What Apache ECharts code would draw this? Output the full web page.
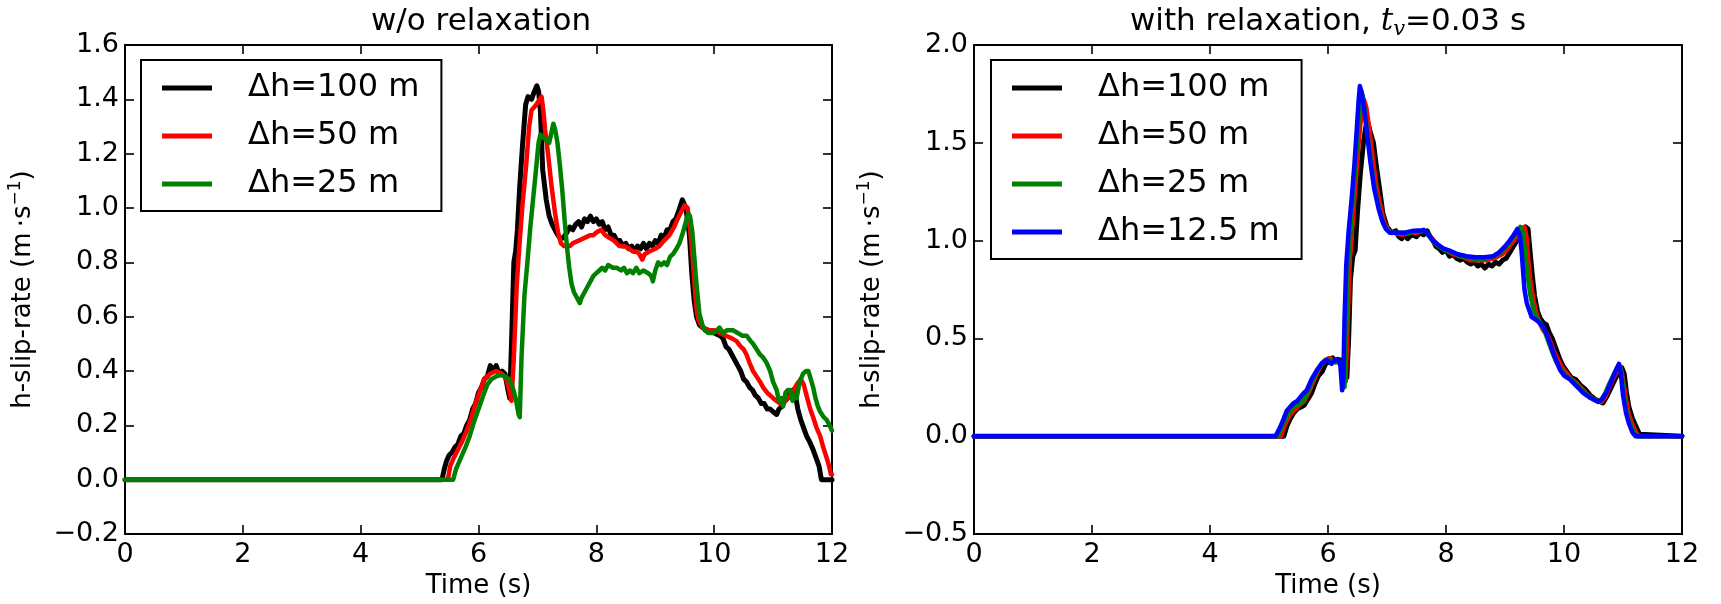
<!DOCTYPE html>
<html><head><meta charset="utf-8">
<script src="https://cdn.jsdelivr.net/npm/echarts@6/dist/echarts.min.js"></script>
<style>html,body{margin:0;padding:0;background:#fff}#c{width:1721px;height:604px}</style>
</head><body><div id="c"></div>
<script>
// ---------- data ----------
const leftTitle = 'w/o relaxation';
const xName = 'Time (s)';
const leftNames = ['Δh=100 m', 'Δh=50 m', 'Δh=25 m'];
const rightNames = ['Δh=100 m', 'Δh=50 m', 'Δh=25 m', 'Δh=12.5 m'];
const colors = ['#000000', '#ff0000', '#008000', '#0000ff'];

// left panel: w/o relaxation  [time (s), slip-rate (m/s)]
const left100 = [[0,0],[5.38,0],[5.42,0.04],[5.46,0.07],[5.5,0.09],[5.55,0.10],[5.6,0.12],[5.65,0.13],[5.7,0.16],[5.75,0.17],[5.8,0.20],[5.85,0.22],[5.9,0.26],[5.95,0.28],[6.0,0.32],[6.05,0.34],[6.1,0.37],[6.15,0.38],[6.2,0.42],[6.25,0.40],[6.3,0.42],[6.35,0.39],[6.4,0.40],[6.45,0.39],[6.5,0.33],[6.53,0.30],[6.56,0.50],[6.6,0.80],[6.63,0.84],[6.66,0.92],[6.7,1.08],[6.75,1.24],[6.8,1.38],[6.84,1.41],[6.9,1.40],[6.95,1.43],[6.99,1.45],[7.02,1.43],[7.05,1.36],[7.09,1.14],[7.15,1.03],[7.2,0.97],[7.25,0.94],[7.32,0.91],[7.38,0.89],[7.44,0.89],[7.5,0.91],[7.55,0.93],[7.6,0.92],[7.65,0.94],[7.7,0.95],[7.75,0.93],[7.8,0.96],[7.85,0.95],[7.9,0.97],[7.95,0.95],[8.0,0.96],[8.05,0.94],[8.1,0.95],[8.15,0.92],[8.2,0.93],[8.25,0.90],[8.3,0.90],[8.35,0.88],[8.4,0.88],[8.45,0.86],[8.5,0.87],[8.55,0.85],[8.6,0.86],[8.65,0.84],[8.7,0.86],[8.75,0.85],[8.8,0.87],[8.85,0.85],[8.9,0.87],[8.95,0.86],[9.0,0.88],[9.05,0.87],[9.1,0.90],[9.15,0.89],[9.2,0.92],[9.25,0.92],[9.3,0.95],[9.35,0.96],[9.4,0.99],[9.46,1.03],[9.52,1.00],[9.55,0.95],[9.58,0.90],[9.62,0.76],[9.66,0.66],[9.7,0.60],[9.75,0.57],[9.8,0.56],[9.9,0.55],[10.0,0.54],[10.1,0.53],[10.15,0.52],[10.2,0.49],[10.25,0.48],[10.3,0.46],[10.35,0.44],[10.4,0.42],[10.45,0.40],[10.5,0.37],[10.55,0.36],[10.6,0.34],[10.65,0.33],[10.7,0.31],[10.75,0.30],[10.8,0.28],[10.85,0.28],[10.9,0.26],[10.95,0.26],[11.0,0.25],[11.06,0.24],[11.1,0.26],[11.15,0.27],[11.2,0.29],[11.25,0.30],[11.3,0.32],[11.34,0.33],[11.38,0.31],[11.42,0.26],[11.47,0.22],[11.52,0.19],[11.57,0.16],[11.62,0.14],[11.68,0.11],[11.73,0.08],[11.78,0.05],[11.82,0.0],[12,0]];
const left50 = [[0,0],[5.48,0],[5.52,0.05],[5.58,0.08],[5.65,0.11],[5.72,0.14],[5.8,0.18],[5.88,0.23],[5.95,0.28],[6.03,0.33],[6.1,0.37],[6.2,0.39],[6.3,0.40],[6.4,0.39],[6.47,0.37],[6.52,0.33],[6.56,0.29],[6.6,0.45],[6.65,0.72],[6.7,0.88],[6.75,1.02],[6.81,1.16],[6.86,1.30],[6.9,1.36],[6.98,1.38],[7.04,1.40],[7.07,1.41],[7.1,1.36],[7.13,1.29],[7.18,1.20],[7.24,1.08],[7.3,0.98],[7.35,0.91],[7.4,0.87],[7.45,0.86],[7.5,0.86],[7.55,0.86],[7.6,0.87],[7.7,0.88],[7.8,0.89],[7.9,0.90],[7.95,0.90],[8.0,0.91],[8.08,0.92],[8.15,0.90],[8.22,0.89],[8.3,0.88],[8.39,0.86],[8.47,0.86],[8.56,0.85],[8.62,0.84],[8.68,0.84],[8.73,0.83],[8.78,0.81],[8.82,0.83],[8.9,0.84],[9.0,0.85],[9.07,0.86],[9.15,0.88],[9.24,0.90],[9.32,0.93],[9.38,0.96],[9.45,0.99],[9.5,1.01],[9.55,1.00],[9.58,0.94],[9.61,0.88],[9.64,0.80],[9.67,0.71],[9.7,0.63],[9.73,0.59],[9.8,0.56],[9.9,0.55],[10.0,0.55],[10.1,0.54],[10.2,0.53],[10.3,0.52],[10.38,0.51],[10.45,0.49],[10.5,0.48],[10.55,0.46],[10.6,0.43],[10.66,0.40],[10.72,0.38],[10.78,0.36],[10.83,0.34],[10.9,0.32],[10.95,0.31],[11.0,0.30],[11.06,0.29],[11.12,0.28],[11.2,0.29],[11.3,0.31],[11.4,0.35],[11.47,0.37],[11.52,0.35],[11.58,0.30],[11.63,0.26],[11.68,0.23],[11.74,0.19],[11.8,0.16],[11.85,0.12],[11.91,0.08],[11.95,0.05],[11.98,0.02],[12,0.02]];
const left25 = [[0,0],[5.57,0],[5.62,0.04],[5.7,0.08],[5.78,0.12],[5.85,0.16],[5.92,0.21],[6.0,0.26],[6.08,0.31],[6.15,0.35],[6.22,0.37],[6.3,0.38],[6.38,0.385],[6.45,0.38],[6.52,0.37],[6.58,0.34],[6.63,0.30],[6.68,0.24],[6.7,0.23],[6.73,0.45],[6.78,0.68],[6.83,0.80],[6.88,0.93],[6.93,1.04],[6.98,1.15],[7.02,1.24],[7.05,1.27],[7.1,1.26],[7.15,1.25],[7.2,1.24],[7.24,1.28],[7.27,1.31],[7.3,1.29],[7.34,1.24],[7.38,1.16],[7.42,1.07],[7.46,0.96],[7.5,0.86],[7.54,0.78],[7.58,0.72],[7.62,0.69],[7.67,0.67],[7.72,0.65],[7.75,0.67],[7.8,0.69],[7.85,0.71],[7.9,0.73],[7.95,0.75],[8.0,0.76],[8.05,0.77],[8.1,0.78],[8.15,0.77],[8.2,0.79],[8.28,0.78],[8.35,0.78],[8.42,0.77],[8.47,0.78],[8.52,0.76],[8.57,0.77],[8.62,0.76],[8.68,0.78],[8.73,0.76],[8.8,0.77],[8.88,0.76],[8.93,0.75],[8.96,0.73],[9.0,0.77],[9.05,0.80],[9.1,0.79],[9.15,0.80],[9.2,0.79],[9.25,0.82],[9.3,0.83],[9.36,0.85],[9.41,0.87],[9.47,0.91],[9.52,0.95],[9.56,0.98],[9.59,0.97],[9.63,0.91],[9.67,0.80],[9.7,0.72],[9.75,0.61],[9.8,0.57],[9.84,0.55],[9.9,0.54],[9.98,0.54],[10.05,0.55],[10.09,0.56],[10.15,0.54],[10.22,0.55],[10.32,0.55],[10.4,0.54],[10.48,0.53],[10.55,0.53],[10.62,0.51],[10.66,0.50],[10.72,0.48],[10.78,0.46],[10.83,0.45],[10.89,0.43],[10.95,0.40],[11.0,0.36],[11.06,0.33],[11.1,0.29],[11.14,0.30],[11.17,0.27],[11.21,0.32],[11.25,0.33],[11.29,0.33],[11.33,0.29],[11.37,0.31],[11.4,0.30],[11.45,0.36],[11.51,0.39],[11.56,0.40],[11.6,0.40],[11.64,0.37],[11.68,0.34],[11.72,0.30],[11.76,0.27],[11.8,0.25],[11.86,0.23],[11.91,0.22],[11.96,0.20],[12,0.18]];

// right panel: with relaxation, t_v = 0.03 s
const right100 = [[0,0],[5.25,0],[5.3,0.05],[5.36,0.09],[5.42,0.12],[5.48,0.14],[5.55,0.15],[5.6,0.16],[5.66,0.19],[5.72,0.22],[5.78,0.27],[5.84,0.31],[5.9,0.33],[5.96,0.37],[6.02,0.38],[6.08,0.40],[6.13,0.38],[6.18,0.39],[6.24,0.39],[6.28,0.36],[6.32,0.30],[6.35,0.50],[6.38,0.80],[6.42,0.92],[6.46,0.95],[6.5,1.15],[6.55,1.35],[6.6,1.50],[6.64,1.58],[6.68,1.60],[6.72,1.55],[6.77,1.50],[6.82,1.38],[6.88,1.25],[6.93,1.14],[7.0,1.07],[7.08,1.04],[7.15,1.05],[7.2,1.02],[7.25,1.01],[7.3,1.03],[7.35,1.01],[7.42,1.03],[7.5,1.02],[7.56,1.04],[7.62,1.03],[7.68,1.05],[7.73,1.02],[7.78,1.00],[7.83,0.97],[7.88,0.96],[7.94,0.94],[8.0,0.95],[8.06,0.92],[8.12,0.93],[8.18,0.91],[8.24,0.90],[8.3,0.91],[8.36,0.89],[8.42,0.88],[8.48,0.89],[8.54,0.87],[8.6,0.88],[8.66,0.86],[8.72,0.88],[8.78,0.87],[8.84,0.89],[8.9,0.88],[8.96,0.90],[9.02,0.91],[9.08,0.94],[9.14,0.97],[9.2,1.0],[9.26,1.03],[9.3,1.06],[9.35,1.07],[9.39,1.06],[9.42,0.96],[9.46,0.83],[9.5,0.72],[9.55,0.64],[9.6,0.60],[9.65,0.58],[9.7,0.57],[9.75,0.53],[9.8,0.50],[9.86,0.45],[9.92,0.40],[9.98,0.36],[10.05,0.33],[10.12,0.30],[10.2,0.29],[10.28,0.26],[10.36,0.24],[10.44,0.21],[10.52,0.19],[10.6,0.18],[10.66,0.17],[10.72,0.20],[10.8,0.25],[10.88,0.30],[10.94,0.33],[10.98,0.35],[11.02,0.32],[11.06,0.22],[11.1,0.15],[11.16,0.09],[11.22,0.05],[11.28,0.01],[11.31,0],[12,0]];
const right50 = [[0,0],[5.2,0],[5.26,0.05],[5.32,0.09],[5.38,0.12],[5.45,0.14],[5.52,0.16],[5.6,0.18],[5.67,0.22],[5.74,0.27],[5.81,0.32],[5.88,0.36],[5.95,0.39],[6.02,0.40],[6.08,0.39],[6.14,0.38],[6.2,0.38],[6.25,0.35],[6.3,0.28],[6.33,0.55],[6.37,0.90],[6.42,1.10],[6.47,1.30],[6.52,1.50],[6.57,1.66],[6.61,1.72],[6.65,1.68],[6.7,1.57],[6.76,1.42],[6.82,1.28],[6.9,1.16],[6.96,1.09],[7.03,1.05],[7.12,1.04],[7.25,1.03],[7.4,1.04],[7.5,1.04],[7.6,1.05],[7.66,1.045],[7.74,1.02],[7.82,0.99],[7.9,0.97],[8.0,0.95],[8.12,0.93],[8.25,0.92],[8.4,0.90],[8.55,0.90],[8.7,0.90],[8.82,0.91],[8.95,0.93],[9.05,0.96],[9.15,1.0],[9.22,1.03],[9.28,1.06],[9.33,1.07],[9.36,1.03],[9.39,0.92],[9.43,0.80],[9.48,0.70],[9.54,0.62],[9.6,0.57],[9.65,0.54],[9.7,0.53],[9.76,0.49],[9.82,0.44],[9.9,0.39],[9.97,0.35],[10.05,0.32],[10.13,0.29],[10.22,0.27],[10.31,0.24],[10.4,0.21],[10.5,0.19],[10.58,0.18],[10.63,0.175],[10.7,0.20],[10.78,0.26],[10.86,0.31],[10.92,0.34],[10.96,0.35],[11.0,0.29],[11.05,0.19],[11.1,0.11],[11.16,0.06],[11.22,0.02],[11.27,0],[12,0]];
const right25 = [[0,0],[5.15,0],[5.21,0.04],[5.28,0.09],[5.34,0.12],[5.41,0.15],[5.48,0.16],[5.55,0.17],[5.62,0.20],[5.69,0.25],[5.76,0.30],[5.83,0.34],[5.9,0.37],[5.97,0.39],[6.04,0.39],[6.1,0.38],[6.17,0.39],[6.22,0.36],[6.26,0.27],[6.28,0.25],[6.31,0.55],[6.34,0.88],[6.39,1.08],[6.43,1.25],[6.48,1.45],[6.52,1.62],[6.56,1.76],[6.59,1.74],[6.63,1.65],[6.68,1.52],[6.74,1.38],[6.8,1.26],[6.88,1.15],[6.95,1.08],[7.02,1.05],[7.1,1.04],[7.25,1.04],[7.4,1.04],[7.5,1.05],[7.58,1.05],[7.64,1.05],[7.72,1.02],[7.8,0.99],[7.88,0.97],[7.98,0.95],[8.1,0.94],[8.25,0.92],[8.4,0.91],[8.55,0.905],[8.7,0.91],[8.82,0.92],[8.93,0.94],[9.03,0.97],[9.12,1.01],[9.2,1.04],[9.26,1.07],[9.3,1.05],[9.34,0.95],[9.38,0.83],[9.43,0.72],[9.49,0.64],[9.55,0.60],[9.62,0.57],[9.68,0.53],[9.74,0.48],[9.8,0.43],[9.87,0.38],[9.95,0.34],[10.03,0.31],[10.12,0.29],[10.2,0.27],[10.3,0.24],[10.4,0.21],[10.5,0.19],[10.57,0.18],[10.62,0.18],[10.7,0.22],[10.77,0.27],[10.85,0.32],[10.9,0.35],[10.95,0.36],[10.98,0.31],[11.02,0.20],[11.07,0.11],[11.13,0.06],[11.19,0.02],[11.24,0],[12,0]];
const right12 = [[0,0],[5.11,0],[5.18,0.04],[5.25,0.09],[5.3,0.13],[5.36,0.15],[5.41,0.167],[5.48,0.18],[5.58,0.218],[5.64,0.235],[5.72,0.29],[5.81,0.337],[5.9,0.375],[5.98,0.389],[6.06,0.37],[6.12,0.39],[6.17,0.395],[6.21,0.36],[6.24,0.235],[6.26,0.30],[6.28,0.60],[6.31,0.88],[6.35,1.05],[6.4,1.21],[6.45,1.40],[6.49,1.58],[6.52,1.72],[6.54,1.79],[6.57,1.76],[6.61,1.68],[6.66,1.55],[6.72,1.40],[6.78,1.27],[6.86,1.16],[6.92,1.10],[6.98,1.06],[7.05,1.04],[7.15,1.04],[7.3,1.04],[7.45,1.05],[7.55,1.05],[7.62,1.055],[7.7,1.03],[7.78,1.00],[7.86,0.98],[7.95,0.96],[8.05,0.95],[8.2,0.93],[8.35,0.92],[8.5,0.915],[8.65,0.915],[8.8,0.92],[8.9,0.94],[9.0,0.97],[9.08,1.0],[9.15,1.03],[9.21,1.06],[9.25,1.03],[9.28,0.95],[9.33,0.75],[9.37,0.68],[9.45,0.61],[9.55,0.59],[9.65,0.56],[9.72,0.51],[9.78,0.46],[9.85,0.40],[9.93,0.34],[10.0,0.31],[10.1,0.29],[10.2,0.26],[10.33,0.22],[10.45,0.195],[10.58,0.175],[10.65,0.19],[10.73,0.23],[10.8,0.28],[10.87,0.33],[10.93,0.37],[10.96,0.33],[11.0,0.21],[11.05,0.12],[11.1,0.065],[11.16,0.02],[11.21,0],[12,0]];

// axis ranges / ticks
const xMin = 0, xMax = 12, xStep = 2;
const yLeftMin = -0.2, yLeftMax = 1.6, yLeftStep = 0.2;
const yRightMin = -0.5, yRightMax = 2.0, yRightStep = 0.5;

// ---------- chart ----------
const FONT = 'DejaVu Sans';
const chart = echarts.init(document.getElementById('c'), null, {renderer: 'canvas'});
const fmtY = v => (v < -1e-9 ? '\u2212' : '') + Math.abs(v).toFixed(1);
const tick = {show: true, inside: true, length: 9, lineStyle: {color: '#000', width: 1.6}};
const line = {show: true, onZero: false, lineStyle: {color: '#000', width: 2}};
const yNameText = 'h-slip-rate (m\u2009\u00b7s{sup|\u22121})';

function xAx(grid, pos) {
  const main = pos === 'bottom';
  return {
    type: 'value', gridIndex: grid, position: pos, min: xMin, max: xMax, interval: xStep,
    axisLine: line, axisTick: tick, splitLine: {show: false},
    axisLabel: {show: main, margin: 7, color: '#000', fontFamily: FONT, fontSize: 27, formatter: v => String(Math.round(v))},
    name: main ? xName : '', nameLocation: 'middle', nameGap: 37,
    nameTextStyle: {color: '#000', fontFamily: FONT, fontSize: 26}
  };
}
function yAx(grid, pos, mn, mx, st) {
  const main = pos === 'left';
  return {
    type: 'value', gridIndex: grid, position: pos, min: mn, max: mx, interval: st,
    axisLine: line, axisTick: tick, splitLine: {show: false},
    axisLabel: {show: main, margin: 6, color: '#000', fontFamily: FONT, fontSize: 27, formatter: fmtY},
    name: main ? yNameText : '', nameLocation: 'middle', nameGap: 86,
    nameTextStyle: {color: '#000', fontFamily: FONT, fontSize: 26,
      rich: {sup: {fontSize: 17, fontFamily: FONT, color: '#000', padding: [0, 0, 15, 0]}}}
  };
}
function ser(name, data, color, xi, yi, z, w) {
  return {
    type: 'line', name, data, xAxisIndex: xi, yAxisIndex: yi, z,
    showSymbol: false, symbol: 'none', smooth: false, animation: false,
    lineStyle: {color, width: w, join: 'round', cap: 'round'}, itemStyle: {color},
    clip: true
  };
}
function legend(names, left) {
  return {
    data: names, orient: 'vertical', left, top: 60, selectedMode: false,
    icon: 'rect', itemWidth: 50, itemHeight: 5, itemGap: 12,
    padding: [10, 22, 9, 21],
    borderColor: '#000', borderWidth: 2, backgroundColor: '#fff',
    textStyle: {color: '#000', fontFamily: FONT, fontSize: 32, lineHeight: 36, padding: [0, 0, 0, 31]}
  };
}

chart.setOption({
  backgroundColor: '#fff',
  animation: false,
  grid: [
    {left: 125, top: 45, width: 707, height: 489},
    {left: 974, top: 45, width: 708, height: 489}
  ],
  xAxis: [xAx(0, 'bottom'), xAx(0, 'top'), xAx(1, 'bottom'), xAx(1, 'top')],
  yAxis: [yAx(0, 'left', yLeftMin, yLeftMax, yLeftStep), yAx(0, 'right', yLeftMin, yLeftMax, yLeftStep),
          yAx(1, 'left', yRightMin, yRightMax, yRightStep), yAx(1, 'right', yRightMin, yRightMax, yRightStep)],
  legend: [legend(leftNames, 141), legend(rightNames, 991)],
  series: [
    ser(leftNames[0], left100, colors[0], 0, 0, 2, 5),
    ser(leftNames[1], left50, colors[1], 0, 0, 3, 4.5),
    ser(leftNames[2], left25, colors[2], 0, 0, 4, 4.5),
    ser(rightNames[0], right100, colors[0], 2, 2, 2, 5),
    ser(rightNames[1], right50, colors[1], 2, 2, 3, 4.5),
    ser(rightNames[2], right25, colors[2], 2, 2, 4, 4.5),
    ser(rightNames[3], right12, colors[3], 2, 2, 5, 4.5)
  ],
  graphic: [
    {type: 'text', x: 481, y: 22, style: {text: leftTitle, fill: '#000', font: '31px "DejaVu Sans"', textAlign: 'center', textVerticalAlign: 'middle'}},
    {type: 'text', x: 1328, y: 22, style: {
      text: '{a|with relaxation, }{t|t}{v|v}{a|=0.03 s}', textAlign: 'center', textVerticalAlign: 'middle',
      rich: {
        a: {fontFamily: FONT, fontSize: 31, fill: '#000'},
        t: {fontFamily: 'DejaVu Serif', fontStyle: 'italic', fontSize: 31, fill: '#000'},
        v: {fontFamily: 'DejaVu Serif', fontStyle: 'italic', fontSize: 21, fill: '#000', padding: [16, 0, 0, 0]}
      }}}
  ]
});
</script>
</body></html>
